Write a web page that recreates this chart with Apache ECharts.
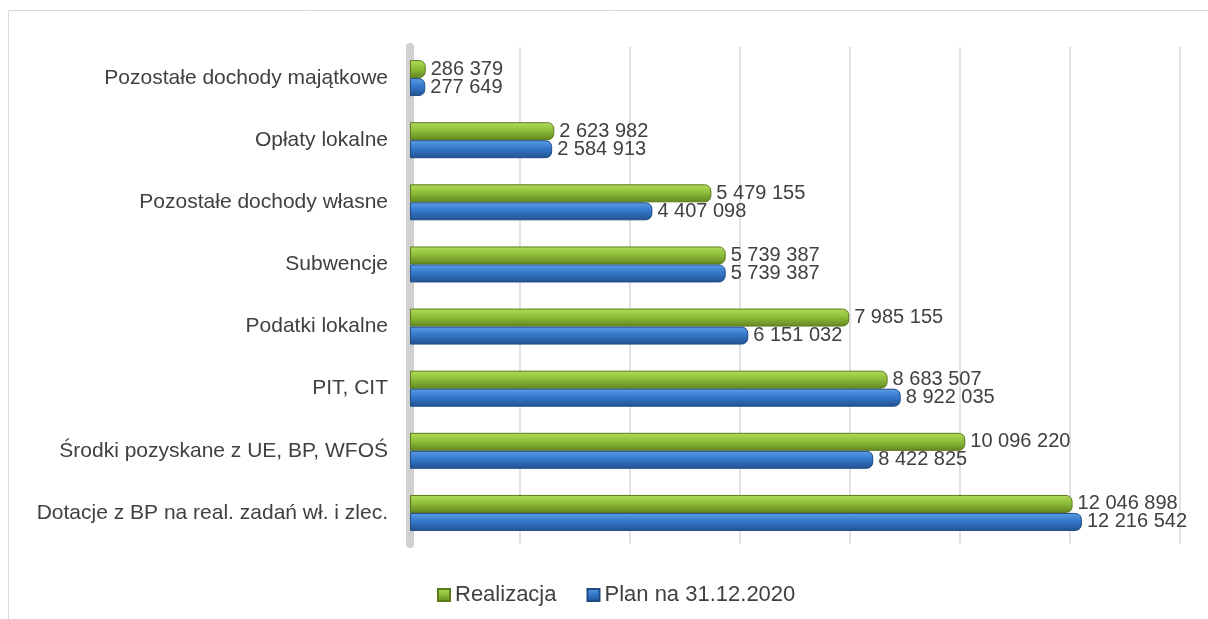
<!DOCTYPE html>
<html>
<head>
<meta charset="utf-8">
<script src="https://cdn.jsdelivr.net/npm/echarts@6/dist/echarts.min.js"></script>
<style>
	html, body { margin: 0; padding: 0; background: #fff; }
	#chart { width: 1208px; height: 619px; }
</style>
</head>
<body>
<div id="chart"></div>
<script>
const categories = [
	'Pozostałe dochody majątkowe',
	'Opłaty lokalne',
	'Pozostałe dochody własne',
	'Subwencje',
	'Podatki lokalne',
	'PIT, CIT',
	'Środki pozyskane z UE, BP, WFOŚ',
	'Dotacje z BP na real. zadań wł. i zlec.'
]
const realizacja = [286379, 2623982, 5479155, 5739387, 7985155, 8683507, 10096220, 12046898]
const plan = [277649, 2584913, 4407098, 5739387, 6151032, 8922035, 8422825, 12216542]
const seriesNames = ['Realizacja', 'Plan na 31.12.2020']

const fmt = v => String(v).replace(/\B(?=(\d{3})+(?!\d))/g, ' ')

const grad = (a, b, c) => new echarts.graphic.LinearGradient(0, 0, 0, 1, [
	{ offset: 0, color: a },
	{ offset: 0.45, color: b },
	{ offset: 1, color: c }
])

const green = grad('#b4dc5c', '#8fbf3a', '#62861f')
const blue = grad('#5c9ee6', '#3478cc', '#22528f')

const chart = echarts.init(document.getElementById('chart'))

const label = {
	show: true,
	position: 'right',
	distance: 5,
	color: '#404040',
	fontFamily: 'Liberation Sans',
	fontSize: 20,
	formatter: p => fmt(p.value)
}

chart.setOption({
	animation: false,
	graphic: [
		{
			type: 'rect',
			shape: { x: 8.5, y: 10.5, width: 1220, height: 640 },
			style: { fill: 'none', stroke: '#d9d9d9', lineWidth: 1 }
		}
	],
	grid: { left: 410, right: 28, top: 47, bottom: 75 },
	legend: {
		bottom: 8,
		left: 432,
		itemWidth: 12,
		itemHeight: 12,
		itemGap: 30,
		icon: 'rect',
		textStyle: { color: '#404040', fontFamily: 'Liberation Sans', fontSize: 22 },
		data: seriesNames
	},
	xAxis: {
		type: 'value',
		min: 0,
		max: 14000000,
		interval: 2000000,
		axisLabel: { show: false },
		axisLine: { show: false },
		axisTick: { show: false },
		splitLine: { lineStyle: { color: '#d9d9d9', width: 1.5 } }
	},
	yAxis: {
		type: 'category',
		inverse: true,
		data: categories,
		axisLine: { lineStyle: { color: '#d0d0d0', width: 8 } },
		axisTick: { show: false },
		axisLabel: {
			margin: 22,
			color: '#404040',
			fontFamily: 'Liberation Sans',
			fontSize: 21
		}
	},
	series: [
		{
			name: seriesNames[0],
			type: 'bar',
			data: realizacja,
			barWidth: 18,
			barGap: '0%',
			itemStyle: { color: green, borderColor: '#5a7a1c', borderWidth: 1, borderRadius: [0, 6, 6, 0] },
			label
		},
		{
			name: seriesNames[1],
			type: 'bar',
			data: plan,
			barWidth: 18,
			itemStyle: { color: blue, borderColor: '#1f4c85', borderWidth: 1, borderRadius: [0, 6, 6, 0] },
			label
		}
	]
})
</script>
</body>
</html>
